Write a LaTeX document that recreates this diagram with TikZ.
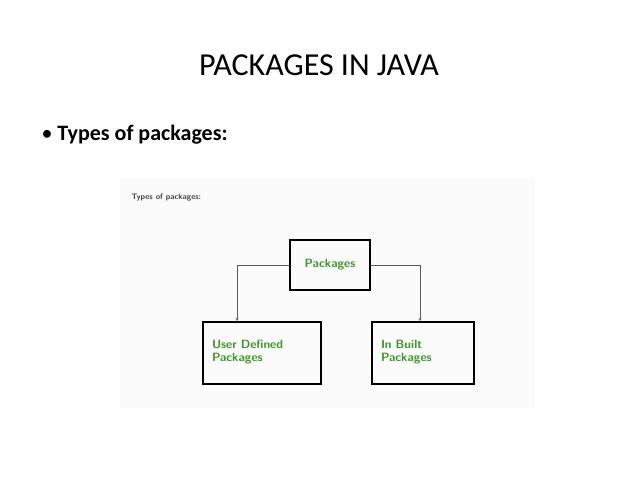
\documentclass[tikz,border=0pt]{standalone}
\usepackage{fontspec}
\setmainfont{Carlito}
\usetikzlibrary{positioning}
\definecolor{pkggreen}{RGB}{60,150,40}
\begin{document}
\begin{tikzpicture}[x=1pt,y=-1pt,>=stealth,
	pkgbox/.style={draw,line width=1.8pt,align=left,text=pkggreen,font=\sffamily\bfseries\fontsize{12}{13}\selectfont}]
	\useasboundingbox[fill=white] (0,0) rectangle (638,478);
	\node (title) at (319,65) {\fontsize{32}{36}\selectfont PACKAGES IN JAVA};
	\node[anchor=west] (bullet) at (38,135) {\fontsize{22}{25}\selectfont \textbullet\ \textbf{Types of packages:}};
	\fill[gray!3] (120,178) rectangle (535,408);
	\node[anchor=west,font=\sffamily\bfseries\fontsize{8}{9}\selectfont,text=black!75] (small) at (128,198) {Types of packages:};
	\node[pkgbox,minimum width=80,minimum height=50] (pkg) at (330,265) {Packages};
	\node[pkgbox,minimum width=118,minimum height=62,text width=100,text depth=18] (user) at (262,353) {User Defined\\Packages};
	\node[pkgbox,minimum width=102,minimum height=62,text width=84,text depth=18] (inbuilt) at (423,353) {In Built\\Packages};
	\draw[->,gray!70!black] (pkg.west) -| (user.north -| 237,0);
	\draw[->,gray!70!black] (pkg.east) -| (inbuilt.north -| 420,0);
\end{tikzpicture}
\end{document}
